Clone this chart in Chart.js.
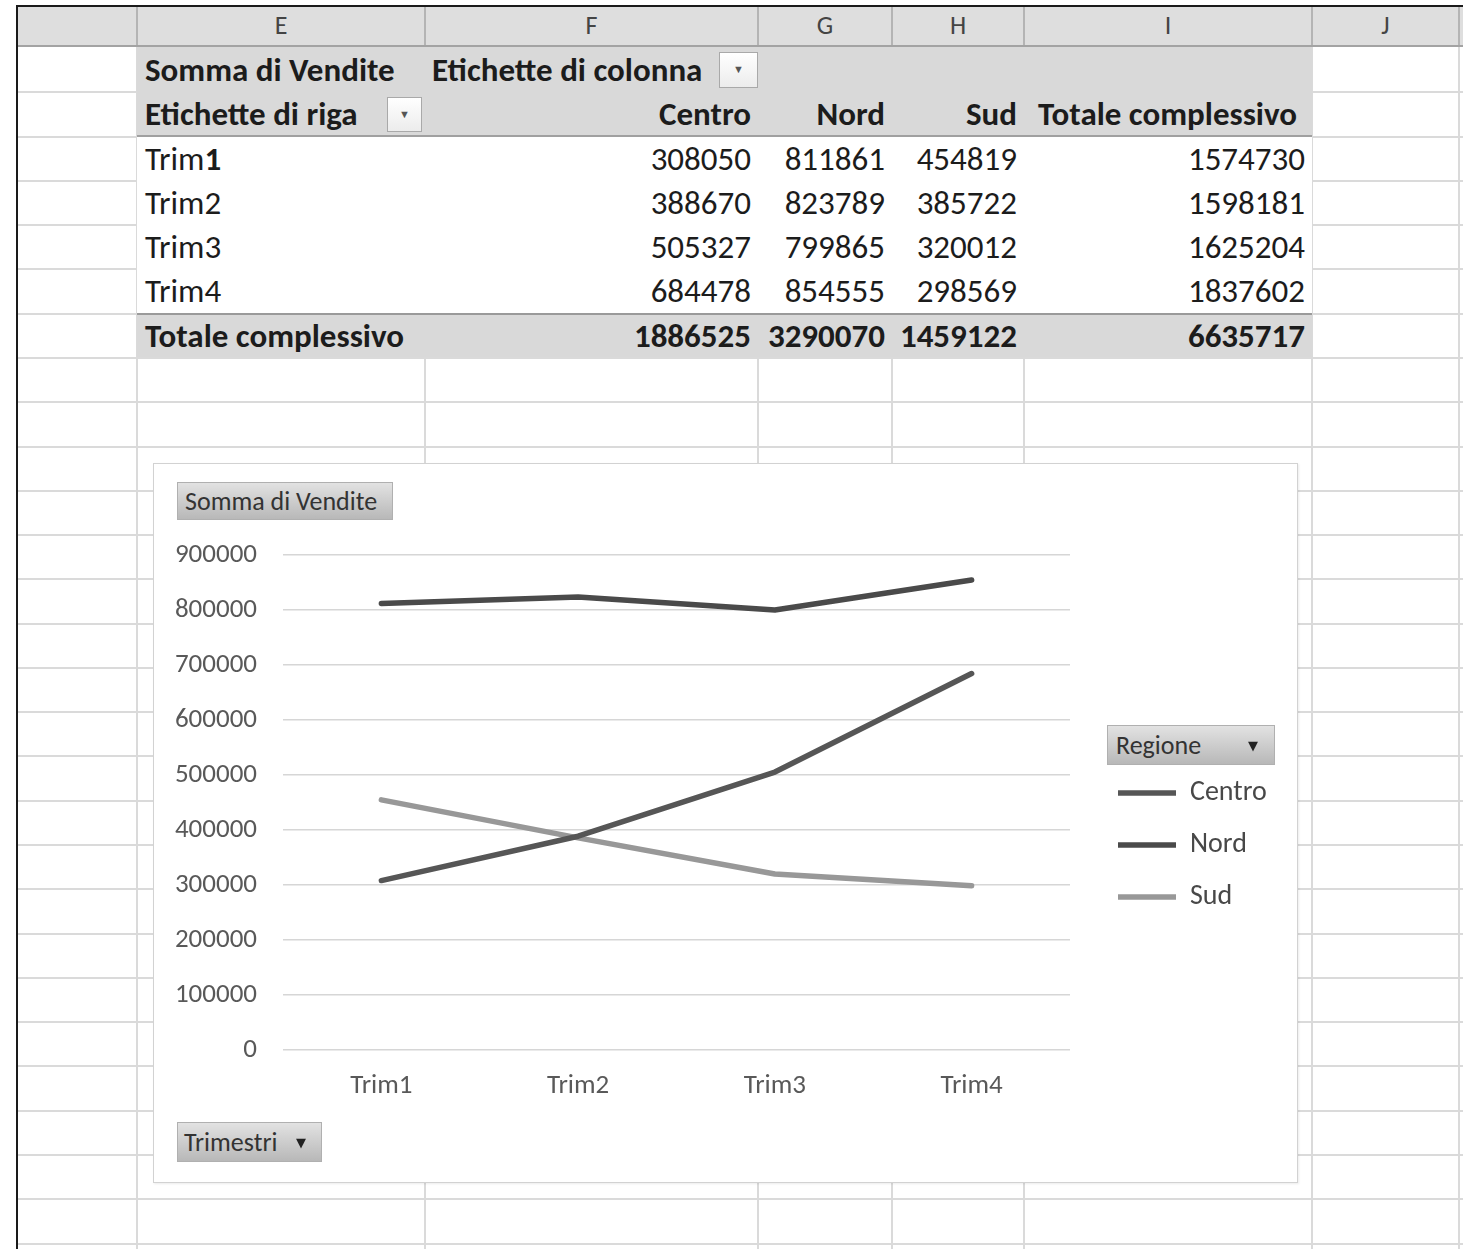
<!DOCTYPE html>
<html>
<head>
<meta charset="utf-8">
<script src="https://cdn.jsdelivr.net/npm/chart.js@4.4.0/dist/chart.umd.min.js"></script>
<style>
  body { margin: 0; width: 1463px; height: 1249px; position: relative; overflow: hidden; background: #fff; font-family: Carlito, Lato, sans-serif; }
  .abs { position: absolute; }
  .hline { position: absolute; height: 2px; background: #dadada; }
  .vline { position: absolute; width: 2px; background: #dadada; }
  .cell { position: absolute; height: 44px; line-height: 44px; font-size: 33px; color: #1c1c1c; white-space: nowrap; }
  .drop { position: absolute; background: linear-gradient(#fff, #ececec); border: 1px solid #a9a9a9; box-sizing: border-box; color: #555; font-size: 11px; text-align: center; }
  .btn { position: absolute; background: linear-gradient(#e2e2e2, #b8b8b8); border: 1px solid #b0b0b0; box-sizing: border-box; font-size: 26px; color: #333; white-space: nowrap; }
  .btn .tri { position: absolute; font-size: 13px; font-family: "DejaVu Sans", sans-serif; color: #222; }
  #chartBox { position: absolute; left: 153px; top: 463px; width: 1145px; height: 720px; background: #fff; border: 1px solid #d2d2d2; box-sizing: border-box; box-shadow: 1px 1px 2px rgba(0,0,0,0.08); }
  #chartBox canvas { position: absolute; left: -1px; top: -1px; }
</style>
</head>
<body>
<div id="sheet"></div>
<div id="chartBox"><canvas id="pivotChart" width="1145" height="720"></canvas></div>
<div class="btn" style="left:177px;top:482px;width:216px;height:38px;line-height:36px;padding-left:7px;">Somma di Vendite</div>
<div class="btn" style="left:1107px;top:725px;width:168px;height:40px;line-height:38px;padding-left:8px;">Regione<span class="tri" style="left:140px;top:1px;">▼</span></div>
<div class="btn" style="left:177px;top:1122px;width:145px;height:40px;line-height:38px;padding-left:6px;">Trimestri<span class="tri" style="left:118px;top:1px;">▼</span></div>

<script>
const quarters = ['Trim1', 'Trim2', 'Trim3', 'Trim4'];
const regions = ['Centro', 'Nord', 'Sud'];
const centro = [308050, 388670, 505327, 684478];
const nord = [811861, 823789, 799865, 854555];
const sud = [454819, 385722, 320012, 298569];
const yMax = 900000;
const yStep = 100000;
const lineColors = ['#565656', '#4a4a4a', '#989898'];

const columnLetters = ['', 'E', 'F', 'G', 'H', 'I', 'J'];
const colX = [17, 137, 425, 758, 892, 1024, 1312, 1459];
const rowH = 44.28;
const firstRow = 48;

const sheet = document.getElementById('sheet');

function box(cls, style, html) {
  const d = document.createElement('div');
  d.className = cls;
  Object.assign(d.style, style);
  if (html !== undefined) d.innerHTML = html;
  sheet.appendChild(d);
  return d;
}

// worksheet grid
for (let y = firstRow + rowH; y < 1249; y += rowH) {
  box('hline', { left: '17px', top: Math.round(y - 1) + 'px', width: '1446px' });
}
colX.slice(1).forEach(x => {
  box('vline', { left: (x - 1) + 'px', top: '47px', height: '1202px' });
});

// column header
box('abs', { left: '17px', top: '6px', width: '1446px', height: '41px', background: '#dedede', borderBottom: '2px solid #a3a3a3', boxSizing: 'border-box' });
colX.slice(1).forEach(x => {
  box('abs', { left: (x - 1) + 'px', top: '6px', width: '2px', height: '39px', background: '#b4b4b4' });
});
columnLetters.forEach((c, i) => {
  if (!c) return;
  box('abs', { left: colX[i] + 'px', top: '6px', width: (colX[i + 1] - colX[i]) + 'px', height: '39px', lineHeight: '39px', textAlign: 'center', fontSize: '26px', color: '#444' }, c);
});
box('abs', { left: '16px', top: '5px', width: '2px', height: '1244px', background: '#1a1a1a' });
box('abs', { left: '16px', top: '5px', width: '1447px', height: '2px', background: '#1a1a1a' });

// pivot table
const rowTop = k => firstRow + rowH * k;
box('abs', { left: '137px', top: '47px', width: '1175px', height: Math.round(rowTop(7) - 48) + 'px', background: '#fff' });
box('abs', { left: '137px', top: '47px', width: '1175px', height: Math.round(rowTop(2) - 47) + 'px', background: '#d9d9d9', borderBottom: '2px solid #a0a0a0', boxSizing: 'border-box' });
box('abs', { left: '137px', top: Math.round(rowTop(6) - 1) + 'px', width: '1175px', height: Math.round(rowH) + 'px', background: '#d9d9d9', borderTop: '2px solid #9a9a9a', boxSizing: 'border-box' });

function cell(row, html, opts) {
  const st = { top: Math.round(rowTop(row)) + 'px' };
  if (opts.left !== undefined) st.left = opts.left + 'px';
  if (opts.right !== undefined) { st.left = (opts.right - 400) + 'px'; st.width = '400px'; st.textAlign = 'right'; }
  if (opts.bold) st.fontWeight = 'bold';
  return box('cell', st, html);
}

const valueRight = [751, 885, 1017];
const totalRight = 1305;
const series = [centro, nord, sud];

cell(0, 'Somma di Vendite', { left: 145, bold: true });
cell(0, 'Etichette di colonna', { left: 432, bold: true });
box('drop', { left: '719px', top: '52px', width: '39px', height: '36px', lineHeight: '34px' }, '▼');
cell(1, 'Etichette di riga', { left: 145, bold: true });
box('drop', { left: '387px', top: '97px', width: '35px', height: '35px', lineHeight: '33px' }, '▼');
regions.forEach((r, j) => cell(1, r, { right: valueRight[j], bold: true }));
cell(1, 'Totale complessivo', { right: 1297, bold: true });

quarters.forEach((q, i) => {
  const label = i === 0 ? q.slice(0, -1) + '<b>' + q.slice(-1) + '</b>' : q;
  cell(2 + i, label, { left: 145 });
  let sum = 0;
  series.forEach((s, j) => { sum += s[i]; cell(2 + i, String(s[i]), { right: valueRight[j] }); });
  cell(2 + i, String(sum), { right: totalRight });
});
cell(6, 'Totale complessivo', { left: 145, bold: true });
let grand = 0;
series.forEach((s, j) => {
  const t = s.reduce((a, b) => a + b, 0);
  grand += t;
  cell(6, String(t), { right: valueRight[j], bold: true });
});
cell(6, String(grand), { right: totalRight, bold: true });

// pivot chart
const chartFont = 'Carlito, Lato, sans-serif';
const legendSize = 28;
const legendPad = 24;
const legendLine = 58;

// legend width is text dependent, so measure it to keep the plot right edge fixed
const mctx = document.createElement('canvas').getContext('2d');
mctx.font = legendSize + 'px ' + chartFont;
const legendTextW = Math.max(...regions.map(r => mctx.measureText(r).width));
const legendW = legendPad + legendLine + legendSize / 2 + legendTextW + 10;
const plotRight = 917;

// legend sits a bit away from the plot, like Excel's
const legendNudge = {
  id: 'legendNudge',
  afterLayout(chart) {
    const lg = chart.legend;
    lg.left += 24;
    lg.right += 24;
    lg.top += 2;
    lg.bottom += 2;
  }
};

new Chart(document.getElementById('pivotChart').getContext('2d'), {
  type: 'line',
  data: {
    labels: quarters,
    datasets: series.map((s, i) => ({
      label: regions[i],
      data: s,
      borderColor: lineColors[i],
      backgroundColor: lineColors[i],
      borderWidth: 5.5,
      borderCapStyle: 'round',
      borderJoinStyle: 'round',
      pointRadius: 0,
      tension: 0
    }))
  },
  options: {
    responsive: false,
    animation: false,
    devicePixelRatio: 1,
    layout: { padding: { top: 92, left: 0, right: 1145 - plotRight - legendW, bottom: 52 } },
    plugins: {
      legend: {
        position: 'right',
        labels: {
          usePointStyle: true,
          pointStyle: 'line',
          pointStyleWidth: legendLine,
          padding: legendPad,
          color: '#484848',
          font: { family: chartFont, size: legendSize }
        }
      },
      tooltip: { enabled: false }
    },
    scales: {
      x: {
        offset: true,
        grid: { display: false },
        border: { display: false },
        ticks: { padding: 12, color: '#595959', font: { family: chartFont, size: 27 } },
        afterFit: scale => { scale.height = 81; }
      },
      y: {
        min: 0,
        max: yMax,
        grid: { color: '#d6d6d6', lineWidth: 1.5, drawTicks: false },
        border: { display: false },
        ticks: {
          stepSize: yStep,
          padding: 26,
          color: '#595959',
          font: { family: chartFont, size: 27 },
          callback: v => String(v)
        },
        afterFit: scale => { scale.width = 130; }
      }
    }
  },
  plugins: [legendNudge]
});
</script>
</body>
</html>
